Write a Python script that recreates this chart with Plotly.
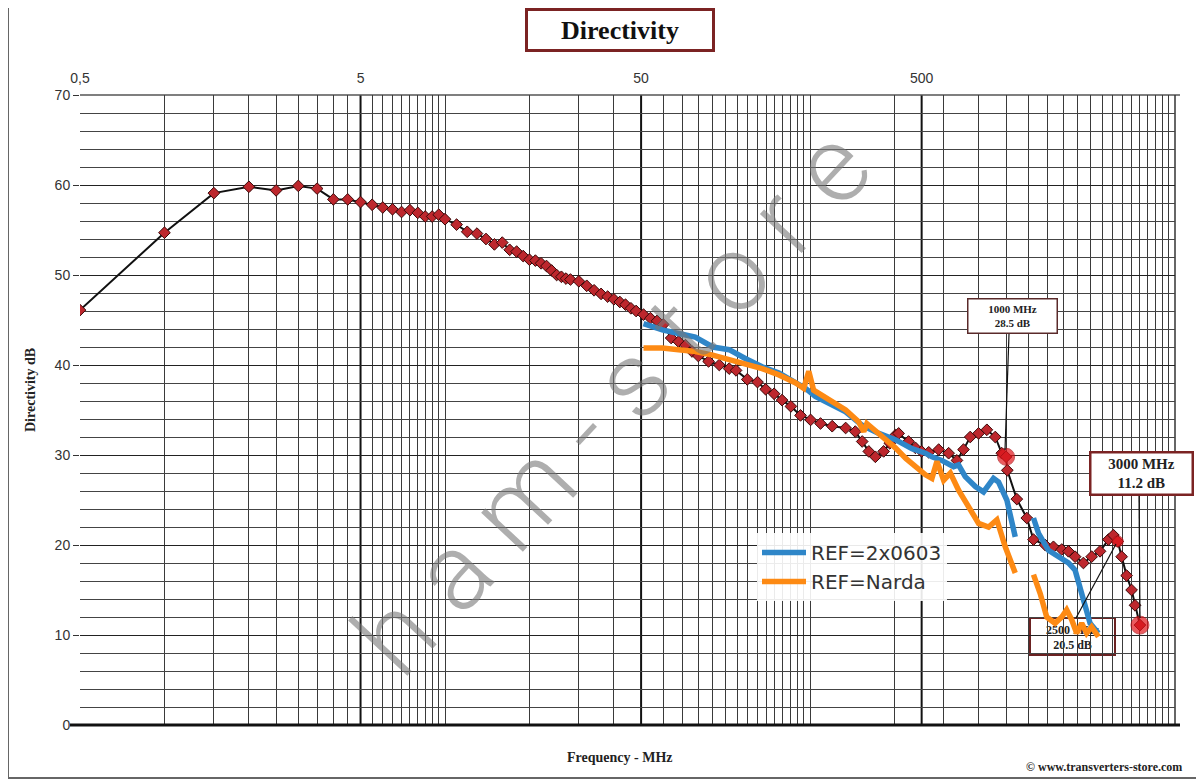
import math
import plotly.graph_objects as go

# ---------------- data ----------------
freq_main = [0.5, 1, 1.5, 2, 2.5, 3, 3.5, 4, 4.5, 5, 5.5, 6, 6.5, 7, 7.5, 8, 8.5, 9, 9.5, 10,
             11, 12, 13, 14, 15, 16, 17, 18, 19, 20, 21, 22, 23, 24, 25, 26, 27, 28, 30, 32,
             34, 36, 38, 40, 42, 44, 46, 48, 51, 54, 57, 60, 64, 68, 72, 76, 80, 87, 95, 103,
             109, 119.5, 130, 139, 149, 159, 171, 185, 201, 218, 240, 268, 290, 307, 324, 342,
             366, 385, 403, 414, 449, 475, 500, 530, 575, 624, 668, 705, 745, 798, 854, 915,
             965, 1000, 1010, 1092, 1185, 1252, 1378, 1475, 1579, 1668, 1762, 1886, 2018, 2162,
             2315, 2412, 2500, 2582, 2689, 2801, 2881, 3000]
dir_main = [46.1, 54.7, 59.1, 59.8, 59.4, 59.9, 59.6, 58.4, 58.4, 58.1, 57.8, 57.5, 57.3, 57.0,
            57.2, 56.9, 56.5, 56.5, 56.7, 56.2, 55.6, 54.8, 54.6, 54.0, 53.4, 53.6, 52.8, 52.6,
            52.1, 51.7, 51.6, 51.3, 51.0, 50.5, 50.0, 49.8, 49.6, 49.5, 49.3, 48.8, 48.3, 47.9,
            47.6, 47.3, 47.0, 46.7, 46.3, 46.0, 45.6, 45.2, 44.9, 44.5, 43.0, 42.6, 42.2, 41.5,
            41.0, 40.4, 40.0, 39.6, 39.4, 38.4, 38.1, 37.3, 36.8, 36.1, 35.4, 34.4, 33.9, 33.5,
            33.2, 33.0, 32.6, 31.5, 30.4, 29.8, 30.4, 31.3, 32.2, 32.4, 31.5, 30.8, 30.4, 30.3,
            30.6, 30.2, 29.4, 30.6, 32.0, 32.4, 32.8, 32.0, 30.2, 29.8, 28.3, 25.1, 23.0, 20.6,
            20.0, 19.8, 19.5, 19.3, 18.7, 18.0, 18.7, 19.3, 20.6, 21.1, 20.4, 18.7, 16.6, 15.0,
            13.3, 11.1]

freq_2x0603 = [51, 59.5, 68, 78, 90, 103, 118, 135, 155, 178, 193, 209, 233, 268, 307, 352, 403,
               462, 516, 544, 590, 650, 677, 715, 777, 831, 902, 940, 1006, 1078, 1160,
               1252, 1305, 1416, 1536, 1668, 1762, 1835, 1912, 1992, 2133]
dir_2x0603 = [44.6, 43.9, 43.5, 43.1, 42.0, 41.7, 40.7, 39.8, 39.1, 38.1, 37.4, 36.5, 35.7, 34.8,
              33.3, 32.4, 31.7, 30.7, 30.2, 29.8, 29.4, 28.7, 28.9, 27.6, 26.5, 25.9, 27.4, 27.0,
              25.0, 20.9, None,
              23.0, 21.3, 19.4, 18.7, 18.0, 17.2, 15.4, 13.1, 11.3, 10.2]

freq_narda = [51, 59.5, 68, 78, 90, 103, 118, 135, 155, 178, 190, 198, 206, 233, 268, 298, 311,
              319, 352, 403, 440, 475, 516, 544, 567, 599, 633, 677, 735, 798, 866, 927, 993,
              1078, 1160,
              1252, 1323, 1396, 1495, 1579, 1644, 1713, 1785, 1860, 1937, 2018, 2133]
dir_narda = [41.9, 41.9, 41.7, 41.5, 41.1, 40.6, 40.2, 39.6, 38.9, 38.0, 37.4, 39.3, 37.2, 36.1,
             35.0, 33.7, 32.6, 33.5, 32.4, 30.8, 29.6, 28.7, 27.8, 27.4, 29.3, 27.2, 28.0, 26.1,
             24.3, 22.4, 22.0, 22.8, 19.8, 16.9, None,
             16.7, 14.6, 12.0, 11.3, 12.0, 12.8, 11.7, 10.2, 11.3, 10.2, 10.9, 9.8]

highlight_freqs = [1000, 2500, 3000]
highlight_sizes = [17, 11, 18]

x_tick_vals = [0.5, 5, 50, 500]
x_tick_text = ["0,5", "5", "50", "500"]
y_tick_vals = [0, 10, 20, 30, 40, 50, 60, 70]

x_minor_grid = [1, 1.5, 2, 2.5, 3, 3.5, 4, 4.5,
                5.5, 6, 6.5, 7, 7.5, 8, 8.5, 9, 9.5, 10, 20, 30, 40,
                60, 70, 80, 90, 100, 110, 120, 130, 140, 150, 160, 170, 180, 190, 200, 400,
                600, 800, 1000, 1200, 1400, 1600, 1800, 2000, 2200, 2400, 2600, 2800, 3000,
                3200, 3400, 3600, 3800]
x_major_grid = [5, 50, 500]

X_MIN, X_MAX = 0.5, 4000

# ---------------- geometry helpers (reference pixel -> paper) ----------------
OFF = 8                      # page body margin added by the browser
W, H = 1204 - OFF, 782 - OFF
L, R, T, B = 80, 1175, 95, 725   # plot area in reference pixels


def px(xp):
    return (xp - L) / (R - L)


def py(yp):
    return (B - yp) / (B - T)


def fx(f):
    return (math.log10(f) - math.log10(X_MIN)) / (math.log10(X_MAX) - math.log10(X_MIN))


hl_dir = [dir_main[freq_main.index(f)] for f in highlight_freqs]

fig = go.Figure()

fig.add_trace(go.Scatter(
    x=freq_main, y=dir_main, mode="lines+markers", showlegend=False,
    line=dict(color="#111111", width=2),
    marker=dict(symbol="diamond", size=9, color="#bd272d",
                line=dict(color="#3a0808", width=1)),
))
fig.add_trace(go.Scatter(
    x=highlight_freqs, y=hl_dir, mode="markers", showlegend=False,
    marker=dict(symbol="circle", size=highlight_sizes, color="#e3161c",
                line=dict(color="#b01015", width=1)),
))
fig.add_trace(go.Scatter(
    x=freq_2x0603, y=dir_2x0603, mode="lines", name="REF=2x0603",
    line=dict(color="#2f86c8", width=5.5), connectgaps=False,
))
fig.add_trace(go.Scatter(
    x=freq_narda, y=dir_narda, mode="lines", name="REF=Narda",
    line=dict(color="#fd8a14", width=5.5), connectgaps=False,
))

shapes = []
for f in x_major_grid:
    shapes.append(dict(type="line", xref="paper", yref="paper", x0=fx(f), x1=fx(f),
                       y0=0, y1=1, line=dict(color="#111111", width=2), layer="below"))
# frame of plot area
shapes.append(dict(type="line", xref="paper", yref="paper", x0=px(70), x1=px(1180), y0=0, y1=0,
                   line=dict(color="#111111", width=3)))
shapes.append(dict(type="line", xref="paper", yref="paper", x0=0, x1=px(1180), y0=1, y1=1,
                   line=dict(color="#555555", width=1.5), layer="below"))
shapes.append(dict(type="line", xref="paper", yref="paper", x0=1, x1=1, y0=0, y1=1,
                   line=dict(color="#333333", width=1.5), layer="below"))
# outer frame
shapes.append(dict(type="rect", xref="paper", yref="paper", x0=px(8), x1=px(1197),
                   y0=py(778), y1=py(5), line=dict(color="#666666", width=2)))
# 2500 MHz box below traces
shapes.append(dict(type="rect", xref="paper", yref="paper", x0=px(1030), x1=px(1115),
                   y0=py(655), y1=py(618), fillcolor="white",
                   line=dict(color="#6b2222", width=2), layer="between",
                   label=dict(text="<b>2500 MHz<br>20.5 dB</b>",
                              font=dict(family="Liberation Serif", size=12, color="#222"))))
# leader lines
shapes.append(dict(type="line", xref="paper", yref="paper", x0=px(1009), x1=px(1005),
                   y0=py(334), y1=py(450), line=dict(color="#111111", width=1.2)))
shapes.append(dict(type="line", xref="paper", yref="paper", x0=px(1139), x1=px(1140),
                   y0=py(494), y1=py(618), line=dict(color="#111111", width=1.2)))
shapes.append(dict(type="line", xref="paper", yref="paper", x0=px(1076), x1=px(1116),
                   y0=py(618), y1=py(544), line=dict(color="#111111", width=1.2)))

A = dict(xref="paper", yref="paper", showarrow=False, xanchor="center", yanchor="middle")
annotations = [
    dict(A, text="<b>Directivity</b>", x=px(620), y=py(30),
         font=dict(family="Liberation Serif", size=26, color="#111"),
         bordercolor="#7b2323", borderwidth=3, borderpad=4, bgcolor="white",
         width=176, height=30),
    dict(A, text="<b>1000 MHz<br>28.5 dB</b>", x=px(1012), y=py(315.5),
         font=dict(family="Liberation Serif", size=11, color="#222"),
         bordercolor="#5a2a2a", borderwidth=1.5, borderpad=2, bgcolor="white",
         width=84, height=29),
    dict(A, text="<b>3000 MHz<br>11.2 dB</b>", x=px(1141), y=py(473),
         font=dict(family="Liberation Serif", size=15, color="#222"),
         bordercolor="#7b2323", borderwidth=2.5, borderpad=3, bgcolor="white",
         width=94, height=34),
    dict(A, text="<b>Frequency - MHz</b>", x=px(620), y=py(757),
         font=dict(family="Liberation Serif", size=14, color="#222")),
    dict(A, text="<b>Directivity dB</b>", x=px(30), y=py(390), textangle=-90,
         font=dict(family="Liberation Serif", size=14, color="#222")),
    dict(A, text="© www.transverters-store.com", x=px(1184), y=py(767), xanchor="right",
         font=dict(family="Liberation Serif", size=12, color="#222", weight="bold")),
    dict(A, text="h a m - s t o r e", x=px(612), y=py(402), textangle=-47,
         font=dict(family="Roboto", size=108, color="rgba(120,120,120,0.6)", weight=300)),
]

fig.update_layout(
    width=W, height=H,
    margin=dict(l=L - OFF, r=(W + OFF) - R, t=T - OFF, b=(H + OFF) - B),
    paper_bgcolor="white", plot_bgcolor="white",
    shapes=shapes, annotations=annotations,
    legend=dict(x=px(757), y=py(533), xanchor="left", yanchor="top",
                bgcolor="rgba(255,255,255,0.9)", borderwidth=0,
                font=dict(family="DejaVu Sans", size=20, color="#333"),
                itemwidth=44, tracegroupgap=2),
    xaxis=dict(type="log", range=[math.log10(X_MIN), math.log10(X_MAX)], side="top",
               tickmode="array", tickvals=x_tick_vals, ticktext=x_tick_text,
               showgrid=False, zeroline=False, showline=False, ticks="",
               ticklabelstandoff=8,
               tickfont=dict(family="Liberation Sans", size=14, color="#333"),
               minor=dict(tickmode="array", tickvals=x_minor_grid, showgrid=True,
                          gridcolor="#3a3a3a", gridwidth=1, ticks="")),
    yaxis=dict(range=[0, 70], tickmode="array", tickvals=y_tick_vals,
               showgrid=True, gridcolor="#222222", gridwidth=1.4, zeroline=False,
               showline=False, ticks="outside", ticklen=6, tickcolor="#333",
               tickfont=dict(family="Liberation Sans", size=14, color="#333"),
               minor=dict(dtick=2, showgrid=True, gridcolor="#444444", gridwidth=1, ticks="")),
)

fig.write_html("out.html")
